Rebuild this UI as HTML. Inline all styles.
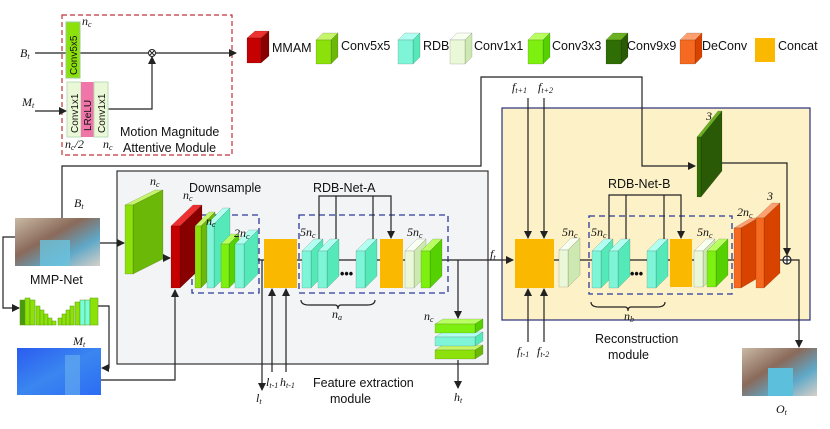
<!DOCTYPE html>
<html><head><meta charset="utf-8"><style>
html,body{margin:0;padding:0;background:#fff;}
svg{display:block}
.t{font-family:"Liberation Sans",sans-serif;font-size:12.5px;fill:#111}
.i{font-family:"Liberation Serif",serif;font-style:italic;font-size:12px;fill:#111}
.v{font-family:"Liberation Sans",sans-serif;font-size:10px;fill:#111}
</style></head><body>
<svg id="s" width="830" height="429" viewBox="0 0 830 429" xmlns="http://www.w3.org/2000/svg">
<defs>
<marker id="a" markerWidth="8" markerHeight="8" refX="7" refY="4" orient="auto" markerUnits="userSpaceOnUse"><path d="M0,0 L8,4 L0,8 z" fill="#222"/></marker>
<linearGradient id="st" x1="0" y1="0" x2="1" y2="1"><stop offset="0" stop-color="#c9b9a5"/><stop offset="0.4" stop-color="#8a6a5a"/><stop offset="0.7" stop-color="#5fa8c8"/><stop offset="1" stop-color="#d8d0c8"/></linearGradient>
<linearGradient id="mt" x1="0" y1="0" x2="1" y2="1"><stop offset="0" stop-color="#2a5cf0"/><stop offset="0.5" stop-color="#3a86f0"/><stop offset="1" stop-color="#2c6cf4"/></linearGradient>
</defs>
<rect x="117" y="171" width="371" height="193" fill="#f3f4f6" stroke="#333" stroke-width="1.2"/>
<rect x="502" y="108" width="308" height="212" fill="#fdf1c7" stroke="#2a2f7a" stroke-width="1.2"/>
<rect x="62" y="15" width="170" height="140" fill="none" stroke="#c0303a" stroke-width="1.2" stroke-dasharray="5,3"/>
<rect x="192" y="215" width="67" height="78" fill="none" stroke="#2a3a9a" stroke-width="1.3" stroke-dasharray="6,4"/>
<rect x="299" y="215" width="149" height="78" fill="none" stroke="#2a3a9a" stroke-width="1.3" stroke-dasharray="6,4"/>
<rect x="589" y="216" width="143" height="78" fill="none" stroke="#2a3a9a" stroke-width="1.3" stroke-dasharray="6,4"/>
<g fill="none" stroke="#222" stroke-width="1.2">
<line x1="35" y1="53" x2="236" y2="53" marker-end="url(#a)"/>
<line x1="35" y1="111" x2="66" y2="111" marker-end="url(#a)"/>
<polyline points="108,109 152,109 152,57" marker-end="url(#a)"/>
<polyline points="62,218 62,166 481,166 481,77 642,77 642,166 695,166" marker-end="url(#a)"/>
<line x1="100" y1="243" x2="124" y2="243" marker-end="url(#a)"/>
<polyline points="155,220 160,220 160,258 170,258" marker-end="url(#a)"/>
<line x1="180" y1="260" x2="513" y2="260" marker-end="url(#a)"/>
<polyline points="15,237 3,237 3,308 19,308" marker-end="url(#a)"/>
<polyline points="98,306 109,306 109,368 102,368" marker-end="url(#a)"/>
<polyline points="101,380 175,380 175,290" marker-end="url(#a)"/>
<line x1="262" y1="260" x2="262" y2="390" marker-end="url(#a)"/>
<line x1="272" y1="372" x2="272" y2="289" marker-end="url(#a)"/>
<line x1="286" y1="372" x2="286" y2="289" marker-end="url(#a)"/>
<line x1="458" y1="260" x2="458" y2="318" marker-end="url(#a)"/>
<line x1="458" y1="360" x2="458" y2="388" marker-end="url(#a)"/>
<polyline points="319,250 319,196 391,196 391,238" marker-end="url(#a)"/>
<line x1="336" y1="250" x2="336" y2="196"/><line x1="373" y1="250" x2="373" y2="196"/>
<path d="M301,300 q0,5 8,5 h26 q3,0 3,4 q0,-4 3,-4 h26 q8,0 8,-5"/>
<line x1="528" y1="98" x2="528" y2="238" marker-end="url(#a)"/>
<line x1="544" y1="98" x2="544" y2="238" marker-end="url(#a)"/>
<line x1="528" y1="342" x2="528" y2="289" marker-end="url(#a)"/>
<line x1="544" y1="342" x2="544" y2="289" marker-end="url(#a)"/>
<polyline points="609,250 609,195 681,195 681,238" marker-end="url(#a)"/>
<line x1="626" y1="250" x2="626" y2="195"/><line x1="664" y1="250" x2="664" y2="195"/>
<line x1="554" y1="260" x2="783" y2="260"/>
<polyline points="722,163 787,163 787,255" marker-end="url(#a)"/>
<polyline points="791,260 799,260 799,347" marker-end="url(#a)"/>
<path d="M591,302 q0,5 8,5 h26 q3,0 3,4 q0,-4 3,-4 h26 q8,0 8,-5"/>
</g>
<g id="sl"></g>
<rect x="66" y="22" width="14" height="56" fill="#8de10a" stroke="#9c9"/>
<text class="v" transform="translate(77,75) rotate(-90)">Conv5x5</text>
<rect x="67" y="82" width="14" height="55" fill="#eaf8d8" stroke="#bdb"/>
<rect x="81" y="82" width="13" height="55" fill="#f075a8"/>
<rect x="94" y="82" width="14" height="55" fill="#eaf8d8" stroke="#bdb"/>
<text class="v" transform="translate(78,133) rotate(-90)">Conv1x1</text>
<text class="v" transform="translate(91,131) rotate(-90)">LReLU</text>
<text class="v" transform="translate(105,133) rotate(-90)">Conv1x1</text>
<circle cx="152" cy="53" r="3.5" fill="#fff" stroke="#222"/><path d="M149.5,50.5l5,5M154.5,50.5l-5,5" stroke="#222"/>
<circle cx="787" cy="260" r="4" fill="#fff" stroke="#222" stroke-width="1.2"/><path d="M783,260h8M787,256v8" stroke="#222" stroke-width="1.2"/>
<rect x="755" y="38" width="20" height="24" fill="#fbb800"/>
<rect x="264" y="239" width="33" height="49" fill="#fbb800"/>
<rect x="380" y="239" width="23" height="49" fill="#fbb800"/>
<rect x="515" y="239" width="39" height="49" fill="#fbb800"/>
<rect x="670" y="239" width="22" height="48" fill="#fbb800"/>
<text x="340" y="278" class="t" font-weight="bold">•••</text>
<text x="630" y="278" class="t" font-weight="bold">•••</text>
<rect x="15" y="218" width="85" height="48" fill="url(#st)"/>
<rect x="40" y="240" width="30" height="26" fill="#6bc3dd" opacity=".8"/>
<rect x="17" y="348" width="84" height="47" fill="url(#mt)"/>
<rect x="65" y="355" width="15" height="40" fill="#6ab0f0" opacity=".6"/>
<rect x="742" y="348" width="75" height="48" fill="url(#st)"/>
<rect x="768" y="368" width="25" height="28" fill="#5cc0dc"/>
<g fill="#8de10a" stroke="#5a9a10" stroke-width=".5">
<rect x="20" y="300" width="5" height="25" fill="#4a9a10"/><rect x="25" y="298" width="5" height="27"/><rect x="30" y="300" width="5" height="25"/>
<rect x="36" y="306" width="4" height="19"/><rect x="40" y="310" width="4" height="15"/><rect x="44" y="314" width="4" height="11"/><rect x="48" y="318" width="4" height="7"/><rect x="52" y="321" width="4" height="4"/>
<rect x="58" y="318" width="4" height="7"/><rect x="62" y="314" width="4" height="11"/><rect x="66" y="310" width="4" height="15"/><rect x="70" y="306" width="4" height="19"/><rect x="75" y="302" width="5" height="23"/><rect x="80" y="300" width="5" height="25" fill="#7fd"/><rect x="85" y="300" width="5" height="25" fill="#7fd"/><rect x="90" y="298" width="8" height="27"/>
</g>
<text x="272" y="52" class="t">MMAM</text>
<text x="341" y="50" class="t">Conv5x5</text>
<text x="423" y="50" class="t">RDB</text>
<text x="474" y="50" class="t">Conv1x1</text>
<text x="552" y="50" class="t">Conv3x3</text>
<text x="627" y="50" class="t">Conv9x9</text>
<text x="702" y="50" class="t">DeConv</text>
<text x="778" y="50" class="t">Concat</text>
<text x="120" y="136" class="t">Motion Magnitude</text>
<text x="123" y="152" class="t">Attentive Module</text>
<text x="189" y="192" class="t">Downsample</text>
<text x="313" y="192" class="t">RDB-Net-A</text>
<text x="608" y="188" class="t">RDB-Net-B</text>
<text x="30" y="284" class="t">MMP-Net</text>
<text x="313" y="387" class="t">Feature extraction</text>
<text x="330" y="403" class="t">module</text>
<text x="595" y="343" class="t">Reconstruction</text>
<text x="608" y="359" class="t">module</text>
<g class="i">
<text x="20" y="57">B<tspan font-size="8" dy="2">t</tspan></text>
<text x="22" y="106">M<tspan font-size="8" dy="2">t</tspan></text>
<text x="82" y="25">n<tspan font-size="8" dy="2">c</tspan></text>
<text x="65" y="148">n<tspan font-size="8" dy="2">c</tspan><tspan dy="-2">/2</tspan></text>
<text x="103" y="148">n<tspan font-size="8" dy="2">c</tspan></text>
<text x="74" y="207">B<tspan font-size="8" dy="2">t</tspan></text>
<text x="73" y="345">M<tspan font-size="8" dy="2">t</tspan></text>
<text x="150" y="185">n<tspan font-size="8" dy="2">c</tspan></text>
<text x="183" y="199">n<tspan font-size="8" dy="2">c</tspan></text>
<text x="206" y="225">n<tspan font-size="8" dy="2">c</tspan></text>
<text x="234" y="237">2n<tspan font-size="8" dy="2">c</tspan></text>
<text x="300" y="236">5n<tspan font-size="8" dy="2">c</tspan></text>
<text x="407" y="236">5n<tspan font-size="8" dy="2">c</tspan></text>
<text x="332" y="318">n<tspan font-size="8" dy="2">a</tspan></text>
<text x="424" y="320">n<tspan font-size="8" dy="2">c</tspan></text>
<text x="490" y="258">f<tspan font-size="8" dy="2">t</tspan></text>
<text x="256" y="402">l<tspan font-size="8" dy="2">t</tspan></text>
<text x="266" y="386">l<tspan font-size="8" dy="2">t-1</tspan></text>
<text x="280" y="386">h<tspan font-size="8" dy="2">t-1</tspan></text>
<text x="454" y="401">h<tspan font-size="8" dy="2">t</tspan></text>
<text x="512" y="91">f<tspan font-size="8" dy="2">t+1</tspan></text>
<text x="538" y="91">f<tspan font-size="8" dy="2">t+2</tspan></text>
<text x="517" y="355">f<tspan font-size="8" dy="2">t-1</tspan></text>
<text x="537" y="355">f<tspan font-size="8" dy="2">t-2</tspan></text>
<text x="562" y="236">5n<tspan font-size="8" dy="2">c</tspan></text>
<text x="591" y="236">5n<tspan font-size="8" dy="2">c</tspan></text>
<text x="697" y="236">5n<tspan font-size="8" dy="2">c</tspan></text>
<text x="624" y="320">n<tspan font-size="8" dy="2">b</tspan></text>
<text x="737" y="216">2n<tspan font-size="8" dy="2">c</tspan></text>
<text x="767" y="200">3</text>
<text x="706" y="120">3</text>
<text x="776" y="413">O<tspan font-size="8" dy="2">t</tspan></text>
</g>
</svg>
<script>
var g=document.getElementById('sl'),N='http://www.w3.org/2000/svg';
function p(pts,f){var e=document.createElementNS(N,'polygon');e.setAttribute('points',pts);e.setAttribute('fill',f);e.setAttribute('stroke','rgba(0,0,0,0.25)');e.setAttribute('stroke-width','0.5');g.appendChild(e);}
var C={g:['#8de10a','#c5f56a','#6cb808'],c:['#7ff5d8','#b0fff0','#55e8b8'],r:['#c40000','#ee3030','#880000'],l:['#eaf8d8','#f8fff0','#cde8b0'],g3:['#7ef010','#b8ff60','#55d000'],d:['#2f6e05','#6ab020','#2a5a05'],o:['#f56a20','#ffa070','#d84400']};
function s(x,y,w,h,dx,dy,k){var c=C[k];
p(x+','+y+' '+(x+dx)+','+(y-dy)+' '+(x+w+dx)+','+(y-dy)+' '+(x+w)+','+y,c[1]);
p((x+w)+','+y+' '+(x+w+dx)+','+(y-dy)+' '+(x+w+dx)+','+(y+h-dy)+' '+(x+w)+','+(y+h),c[2]);
p(x+','+y+' '+(x+w)+','+y+' '+(x+w)+','+(y+h)+' '+x+','+(y+h),c[0]);}
s(247,38,14,25,8,7,'r');s(316,40,15,24,7,7,'g');s(398,40,15,24,7,7,'c');s(450,40,15,24,7,7,'l');s(528,40,15,24,7,7,'g3');s(606,40,15,24,7,7,'d');s(680,40,15,24,7,7,'o');
s(125,205,8,69,30,15,'g');s(171,226,9,62,22,21,'r');
s(195,226,6,62,14,14,'g');s(207,224,7,64,16,16,'c');s(221,244,8,44,10,10,'g3');s(235,244,9,44,14,14,'c');
s(302,251,9,37,12,12,'c');s(318,251,9,37,12,12,'c');s(356,251,9,37,12,12,'c');s(405,251,9,37,12,12,'l');s(421,251,9,37,12,12,'g3');
s(435,350,40,9,8,5,'g');s(435,337,40,9,8,5,'c');s(435,324,40,9,8,5,'g3');
s(559,250,9,37,12,12,'l');
s(592,251,9,37,12,12,'c');s(609,251,9,37,12,12,'c');s(647,251,9,37,12,12,'c');s(694,251,9,36,12,12,'l');s(707,251,9,36,12,12,'g3');
s(697,137,4,60,21,26,'d');s(734,228,7,60,17,10,'o');s(756,218,8,70,16,15,'o');
</script>
</body></html>
